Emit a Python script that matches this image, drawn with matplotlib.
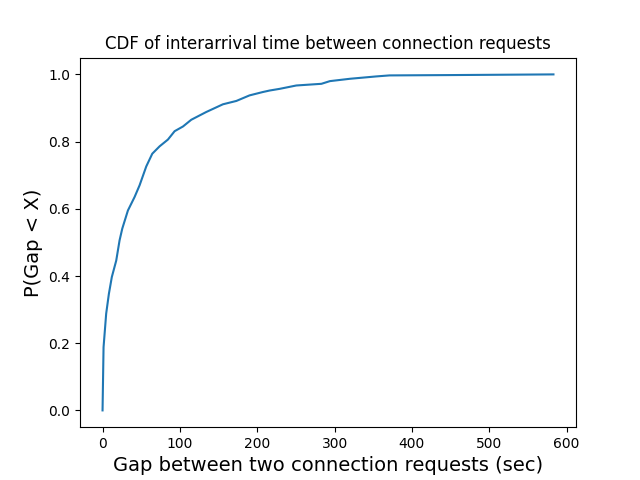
import matplotlib
matplotlib.use("Agg")
import matplotlib.pyplot as plt

# gap (sec) and cumulative probability
gap_sec = [0, 1.3, 4.7, 8.2, 12, 17.7, 22, 25.5, 32.8, 41.4, 47.9, 56.5, 64.3,
           73.8, 84.5, 93.2, 104, 114.7, 134, 155.6, 173, 190, 207, 216, 229,
           250.5, 283, 294, 320, 354, 371, 450, 583]
cdf = [0.0, 0.188, 0.288, 0.347, 0.397, 0.446, 0.506, 0.541, 0.595, 0.635,
       0.670, 0.726, 0.764, 0.786, 0.806, 0.831, 0.845, 0.865, 0.888, 0.911,
       0.921, 0.9375, 0.9474, 0.952, 0.957, 0.967, 0.972, 0.98, 0.987, 0.994,
       0.997, 0.998, 1.0]

fig = plt.figure(figsize=(6.4, 4.8), dpi=100)
plt.plot(gap_sec, cdf)
plt.title("CDF of interarrival time between connection requests")
plt.xlabel("Gap between two connection requests (sec)", fontsize=14)
plt.ylabel("P(Gap < X)", fontsize=14)
plt.savefig("out.png", dpi=100)
plt.close()
